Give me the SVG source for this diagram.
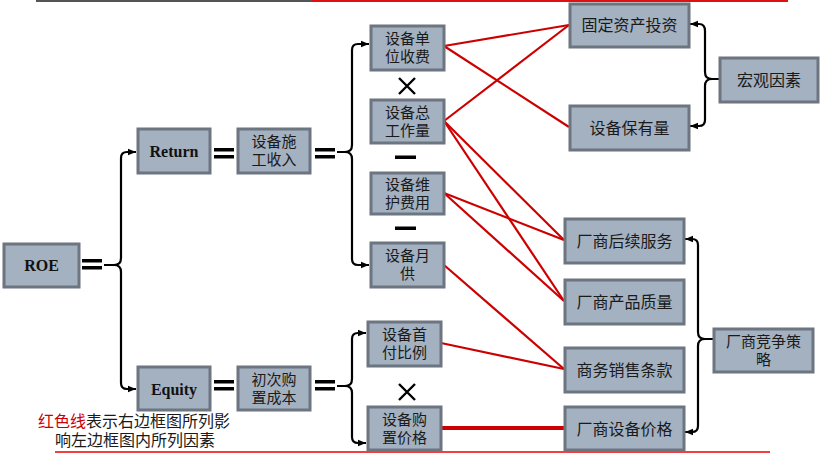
<svg xmlns="http://www.w3.org/2000/svg" width="821" height="459" viewBox="0 0 821 459">
<defs>
<style>
.box{fill:#a3b1c1;stroke:#6c7580;stroke-width:3}
.t{font-family:"Liberation Serif","Noto Sans CJK SC",serif;font-size:16px;fill:#1a1a1a;text-anchor:middle;dominant-baseline:central}
.t2{font-family:"Liberation Serif","Noto Sans CJK SC",serif;font-size:15px;fill:#1a1a1a;text-anchor:middle;dominant-baseline:central}
.e{font-family:"Liberation Serif",serif;font-size:16px;font-weight:bold;fill:#111;text-anchor:middle;dominant-baseline:central}
.br{fill:none;stroke:#000;stroke-width:2.2}
.red{stroke:#cc0000;stroke-width:2.2;fill:none}
.eq{fill:#000}
.op{stroke:#000;stroke-width:2.4;fill:none}
.lg{font-family:"Liberation Serif","Noto Sans CJK SC",serif;font-size:16px;fill:#1a1a1a}
</style>
<marker id="ah" markerUnits="userSpaceOnUse" markerWidth="8" markerHeight="8" viewBox="0 0 8 8" refX="8" refY="4" orient="auto">
<path d="M0,0.8 L8,4 L0,7.2 z" fill="#000"/>
</marker>
</defs>
<rect width="821" height="459" fill="#fff"/>
<line x1="36" y1="1" x2="312" y2="1" stroke="#555" stroke-width="2"/>
<line x1="312" y1="1" x2="788" y2="1" stroke="#dd1111" stroke-width="2"/>
<line x1="55" y1="452" x2="770" y2="452" stroke="#ee0000" stroke-width="1.5"/>

<g id="connectors">
<g class="red">
<line x1="444" y1="46" x2="569" y2="25"/>
<line x1="444" y1="46" x2="569" y2="127"/>
<line x1="444" y1="121" x2="569" y2="25"/>
<line x1="444" y1="121" x2="564" y2="240"/>
<line x1="444" y1="121" x2="564" y2="301"/>
<line x1="444" y1="193" x2="564" y2="240"/>
<line x1="444" y1="193" x2="564" y2="301"/>
<line x1="444" y1="265" x2="564" y2="369"/>
<line x1="441" y1="343" x2="564" y2="369"/>
<line x1="441" y1="428" x2="564" y2="428" stroke-width="4"/>
</g>
<g class="br">
<path d="M104 265 H114 Q121 265 121 258 V158 Q121 152 127 152 H136" marker-end="url(#ah)"/>
<path d="M114 265 Q121 265 121 272 V383 Q121 389 127 389 H136" marker-end="url(#ah)"/>
<path d="M337 152 H345 Q352 152 352 145 V50 Q352 44 358 44 H369" marker-end="url(#ah)"/>
<path d="M345 152 Q352 152 352 159 V259 Q352 265 358 265 H369" marker-end="url(#ah)"/>
<path d="M337 386 H345 Q352 386 352 379 V339 Q352 333 358 333 H366" marker-end="url(#ah)"/>
<path d="M345 386 Q352 386 352 393 V437 Q352 443 358 443 H366" marker-end="url(#ah)"/>
<path d="M719 79 H712 Q705 79 705 72 V31 Q705 24 699 24 H690" marker-end="url(#ah)"/>
<path d="M712 79 Q705 79 705 86 V120 Q705 126 699 126 H690" marker-end="url(#ah)"/>
<path d="M713 339 H705 Q698 339 698 332 V245 Q698 239 692 239 H685" marker-end="url(#ah)"/>
<path d="M705 339 Q698 339 698 346 V426 Q698 432 692 432 H685" marker-end="url(#ah)"/>
</g>
<g class="eq">
<rect x="82" y="259" width="20" height="3.5"/><rect x="82" y="266" width="20" height="3.5"/>
<rect x="214" y="148" width="20" height="3.5"/><rect x="214" y="155" width="20" height="3.5"/>
<rect x="315" y="148" width="20" height="3.5"/><rect x="315" y="155" width="20" height="3.5"/>
<rect x="214" y="380" width="20" height="3.5"/><rect x="214" y="387" width="20" height="3.5"/>
<rect x="315" y="380" width="20" height="3.5"/><rect x="315" y="387" width="20" height="3.5"/>
</g>
<g class="op">
<path d="M399 78 L415 94 M415 78 L399 94"/>
<path d="M399 384 L415 400 M415 384 L399 400"/>
</g>
<rect x="395" y="155.5" width="21" height="3.5" fill="#000"/>
<rect x="395" y="226.5" width="21" height="3.5" fill="#000"/>
</g>

<g id="roe"><rect class="box" x="4" y="244" width="75" height="43"/><text class="e" x="41.5" y="265.5">ROE</text></g>
<g id="return"><rect class="box" x="138" y="129" width="72" height="44"/><text class="e" x="174" y="151">Return</text></g>
<g id="equity"><rect class="box" x="138" y="367" width="72" height="43"/><text class="e" x="174" y="389">Equity</text></g>
<g id="shigong"><rect class="box" x="238" y="129" width="72" height="44"/><text class="t2" x="274" y="142">设备施</text><text class="t2" x="274" y="160">工收入</text></g>
<g id="chuci"><rect class="box" x="238" y="367" width="72" height="43"/><text class="t2" x="274" y="379.5">初次购</text><text class="t2" x="274" y="397.5">置成本</text></g>
<g id="danwei"><rect class="box" x="371" y="26" width="73" height="44"/><text class="t2" x="407.5" y="39">设备单</text><text class="t2" x="407.5" y="57">位收费</text></g>
<g id="zonggong"><rect class="box" x="371" y="100" width="73" height="43"/><text class="t2" x="407.5" y="112.5">设备总</text><text class="t2" x="407.5" y="130.5">工作量</text></g>
<g id="weihu"><rect class="box" x="371" y="173" width="73" height="41"/><text class="t2" x="407.5" y="184.5">设备维</text><text class="t2" x="407.5" y="202.5">护费用</text></g>
<g id="yuegong"><rect class="box" x="371" y="243" width="73" height="44"/><text class="t2" x="407.5" y="256">设备月</text><text class="t2" x="407.5" y="274">供</text></g>
<g id="shoufu"><rect class="box" x="368" y="322" width="73" height="44"/><text class="t2" x="404.5" y="335">设备首</text><text class="t2" x="404.5" y="353">付比例</text></g>
<g id="gouzhi"><rect class="box" x="368" y="407" width="73" height="43"/><text class="t2" x="404.5" y="419.5">设备购</text><text class="t2" x="404.5" y="437.5">置价格</text></g>
<g id="guding"><rect class="box" x="570" y="4" width="119" height="43"/><text class="t" x="629.5" y="25.5">固定资产投资</text></g>
<g id="baoyou"><rect class="box" x="570" y="106" width="119" height="44"/><text class="t" x="629.5" y="128">设备保有量</text></g>
<g id="hongguan"><rect class="box" x="720" y="58" width="98" height="44"/><text class="t" x="769" y="80">宏观因素</text></g>
<g id="houxu"><rect class="box" x="565" y="219" width="119" height="44"/><text class="t" x="624.5" y="241">厂商后续服务</text></g>
<g id="zhiliang"><rect class="box" x="565" y="280" width="119" height="44"/><text class="t" x="624.5" y="302">厂商产品质量</text></g>
<g id="shangwu"><rect class="box" x="565" y="348" width="119" height="44"/><text class="t" x="624.5" y="370">商务销售条款</text></g>
<g id="jiage"><rect class="box" x="565" y="407" width="119" height="43"/><text class="t" x="624.5" y="429">厂商设备价格</text></g>
<g id="jingzheng"><rect class="box" x="714" y="329" width="99" height="43"/><text class="t2" x="763.5" y="341.5">厂商竞争策</text><text class="t2" x="763.5" y="359.5">略</text></g>

<g id="legend">
<text class="lg" x="38" y="427"><tspan fill="#cc0000">红色线</tspan>表示右边框图所列影</text>
<text class="lg" x="55" y="446">响左边框图内所列因素</text>
</g>
</svg>
